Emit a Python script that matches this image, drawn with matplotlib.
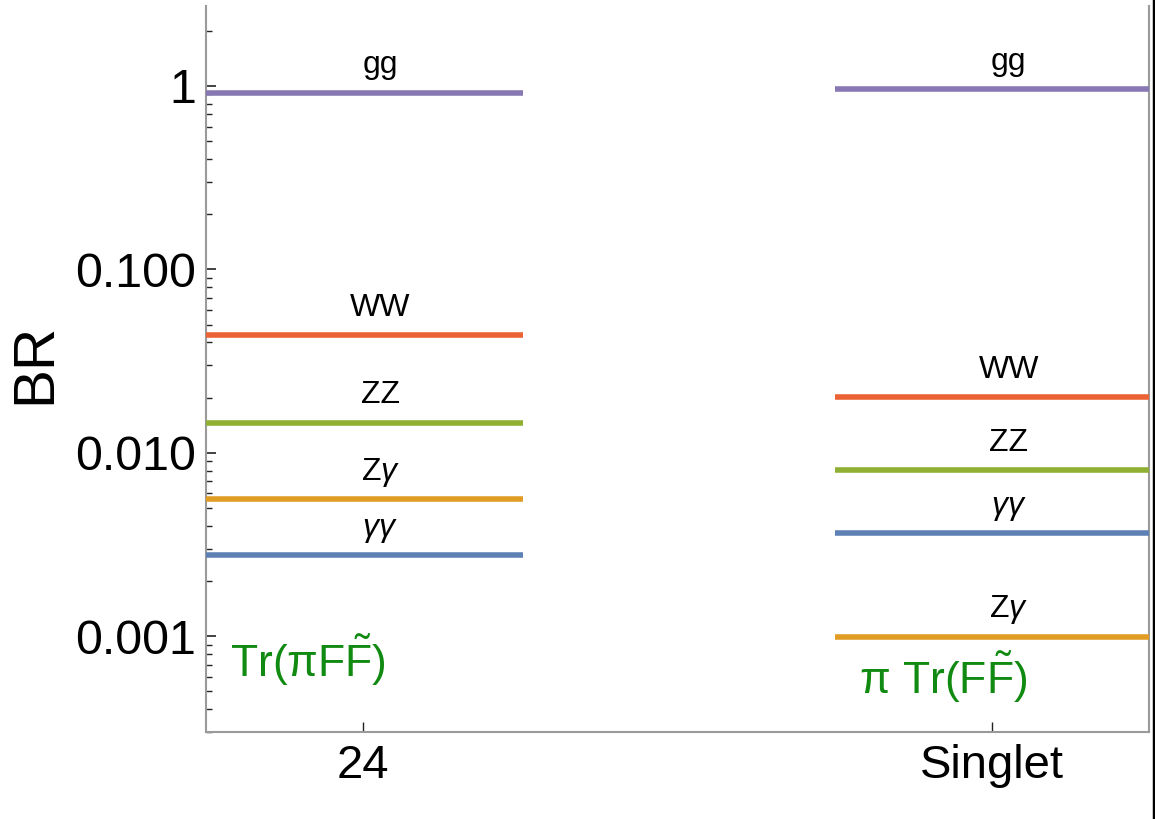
#!/usr/bin/env python3
# Branching ratios of the pseudo-scalar decays: 24 vs Singlet.

import numpy as np
import matplotlib
matplotlib.use("Agg")
import matplotlib.pyplot as plt
from matplotlib import font_manager
from matplotlib.lines import Line2D
from matplotlib.ticker import LogLocator, NullFormatter

# --- data -------------------------------------------------------------
groups = ["24", "Singlet"]
channels = ["gg", "WW", "ZZ", "Z$\\gamma$", "$\\gamma\\gamma$"]
br_24 = [0.92, 0.0438, 0.0146, 0.00558, 0.00276]
br_singlet = [0.96, 0.0201, 0.00804, 0.00099, 0.00364]
channel_colors = ["#8778B3", "#EB6235", "#8FB032", "#E19C24", "#5E81B5"]
operators = ["$\\mathrm{Tr}(\\mathrm{\\pi F\\tilde{F}})$",
             "$\\mathrm{\\pi\\ Tr}(\\mathrm{F\\tilde{F}})$"]
operator_y = [7.4e-4, 6.0e-4]
ytick_vals = [0.001, 0.01, 0.1, 1]
ytick_labels = ["0.001", "0.010", "0.100", "1"]

# --- fonts ------------------------------------------------------------
names = {f.name for f in font_manager.fontManager.ttflist}
narrow = "Liberation Sans Narrow" if "Liberation Sans Narrow" in names else "Liberation Sans"
scale = 1.0 if narrow == "Liberation Sans Narrow" else 0.85
plt.rcParams["font.family"] = [narrow, "DejaVu Sans"]
plt.rcParams["mathtext.fontset"] = "custom"
plt.rcParams["mathtext.rm"] = narrow
plt.rcParams["mathtext.it"] = narrow + ":italic"

fig = plt.figure(figsize=(11.55, 8.19), dpi=100)
ax = fig.add_axes([206 / 1155, 1 - 732 / 819, 943 / 1155, 726 / 819])

half = 0.25
for gi, vals in enumerate([br_24, br_singlet]):
    for name, v, c in zip(channels, vals, channel_colors):
        ax.hlines(v, gi - half, gi + half + 0.005, color=c, lw=4, zorder=3)
        ax.annotate(name, (gi + 0.027, v), xytext=(0, 14), textcoords="offset points",
                    ha="center", va="baseline", fontsize=23, color="black")
    ax.text(gi - half + 0.038, operator_y[gi], operators[gi], color="#108a10",
            fontsize=32, ha="left", va="center")

ax.set_yscale("log")
ax.set_ylim(3.0e-4, 2.73)
ax.set_xlim(-half, 1 + half)

ax.set_yticks(ytick_vals)
ax.set_yticklabels(ytick_labels)
ax.yaxis.set_minor_locator(LogLocator(base=10, subs=np.arange(2, 10), numticks=50))
ax.yaxis.set_minor_formatter(NullFormatter())
ax.set_xticks([0, 1])
ax.set_xticklabels(groups)

ax.tick_params(axis="y", which="major", direction="in", length=7, width=1.2,
               labelsize=41 * scale, pad=7, color="#222222")
ax.tick_params(axis="y", which="minor", direction="in", length=4.5, width=1.0, color="#222222")
ax.tick_params(axis="x", which="major", direction="in", length=7, width=1.0,
               labelsize=40 * scale, pad=9, color="#222222")

for side in ["left", "bottom", "right"]:
    ax.spines[side].set_color("#9a9a9a")
    ax.spines[side].set_linewidth(1.5)
ax.spines["top"].set_visible(False)

ax.set_ylabel("BR", fontsize=42, family="Liberation Sans", va="center")
ax.yaxis.set_label_coords(-0.181, 0.508)

# dark edge on the right side of the picture
fig.add_artist(Line2D([1153.5 / 1155, 1153.5 / 1155], [0, 1], transform=fig.transFigure,
                      color="black", lw=2.5))

fig.savefig("out.png", dpi=100)
